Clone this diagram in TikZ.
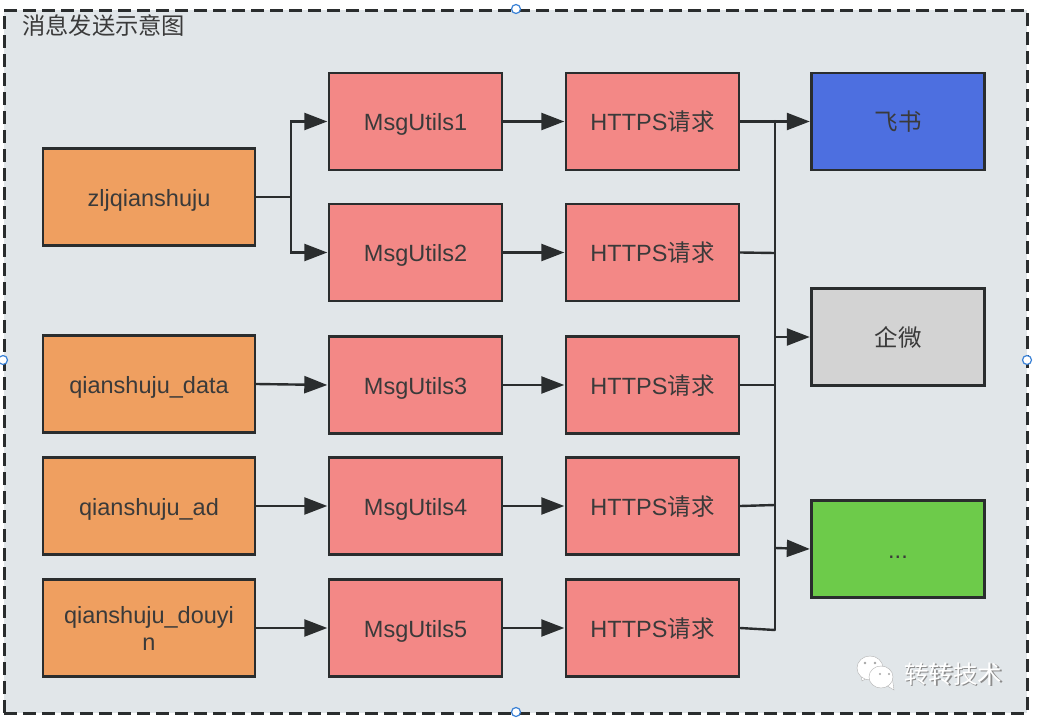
\documentclass[tikz,border=0pt]{standalone}
\usepackage{fontspec}
\setmainfont{Liberation Sans}
\newfontfamily\cjk{Noto Sans CJK SC}
\usetikzlibrary{arrows.meta}
\definecolor{panelfill}{HTML}{E1E6E9}
\definecolor{linedark}{HTML}{2A2D2E}
\definecolor{orangefill}{HTML}{EF9F60}
\definecolor{pinkfill}{HTML}{F38886}
\definecolor{bluefill}{HTML}{4D6FE0}
\definecolor{grayfill}{HTML}{D3D3D3}
\definecolor{greenfill}{HTML}{6DCB4A}
\definecolor{labeltext}{HTML}{3A3A3A}
\definecolor{handleblue}{HTML}{3B82D6}
\newcommand\lbl[1]{\raisebox{0pt}[18pt][0pt]{#1}}
\tikzset{
  x=1pt,y=-1pt,
  boxbase/.style={draw=linedark,line width=2.4pt,inner sep=0pt,text=labeltext,font=\fontsize{23.5}{27}\selectfont,align=center},
  srcbox/.style={boxbase,fill=orangefill,minimum width=212pt,minimum height=97pt},
  procbox/.style={boxbase,fill=pinkfill,minimum width=173pt,minimum height=97pt},
  dstbox/.style={boxbase,minimum width=173pt,minimum height=97pt},
  conn/.style={draw=linedark,line width=2.4pt},
  arr/.style={conn,-{Triangle[length=23pt,width=17pt]},shorten >=0.5pt},
  handle/.style={circle,draw=handleblue,fill=white,line width=1.2pt,minimum size=9pt,inner sep=0pt},
}
\begin{document}
\begin{tikzpicture}
\useasboundingbox (0,0) rectangle (1037,720);
\fill[white] (0,0) rectangle (1037,720);
\node[draw=linedark,fill=panelfill,line width=3pt,dash pattern=on 13pt off 6pt,minimum width=1023pt,minimum height=703pt,inner sep=0pt] (panel) at (515.5,361.5) {};
\node[handle] (h1) at (516,9) {};
\node[handle] (h2) at (3,360) {};
\node[handle] (h3) at (1027,360) {};
\node[handle] (h4) at (516,712) {};
\node[anchor=west,inner sep=0pt,text=labeltext,font=\cjk\fontsize{23.3}{26}\selectfont] (title) at (22,26) {消息发送示意图};

\node[srcbox] (s1) at (149,197) {\lbl{zljqianshuju}};
\node[srcbox] (s2) at (149,384) {\lbl{qianshuju\_data}};
\node[srcbox] (s3) at (149,506) {\lbl{qianshuju\_ad}};
\node[srcbox] (s4) at (149,628) {\lbl{qianshuju\_douyi}\\\lbl{n}};

\node[procbox] (m1) at (415.5,121.5) {\lbl{MsgUtils1}};
\node[procbox] (m2) at (415.5,252.5) {\lbl{MsgUtils2}};
\node[procbox] (m3) at (415.5,385) {\lbl{MsgUtils3}};
\node[procbox] (m4) at (415.5,506) {\lbl{MsgUtils4}};
\node[procbox] (m5) at (415.5,628) {\lbl{MsgUtils5}};

\node[procbox] (r1) at (652.5,121.5) {\lbl{HTTPS{\cjk 请求}}};
\node[procbox] (r2) at (652.5,252.5) {\lbl{HTTPS{\cjk 请求}}};
\node[procbox] (r3) at (652.5,385) {\lbl{HTTPS{\cjk 请求}}};
\node[procbox] (r4) at (652.5,506) {\lbl{HTTPS{\cjk 请求}}};
\node[procbox] (r5) at (652.5,628) {\lbl{HTTPS{\cjk 请求}}};

\node[dstbox,fill=bluefill] (d1) at (898,121.5) {\cjk\lbl{飞书}};
\node[dstbox,fill=grayfill] (d2) at (898,337) {\cjk\lbl{企微}};
\node[dstbox,fill=greenfill] (d3) at (898,549) {\lbl{...}};

\coordinate (j1) at (291,197);
\coordinate (b1) at (775,121);
\coordinate (b2) at (775,253);
\coordinate (b3) at (775,385);
\coordinate (b4) at (775,505);
\coordinate (b5) at (775,630);
\coordinate (bd2) at (775,337);
\coordinate (bd3) at (775,548);

\draw[conn] (s1.east) -- (j1);
\draw[arr] (j1) |- (m1.west);
\draw[arr] (j1) |- (m2.west);
\draw[arr] (s2.east) -- (m3.west);
\draw[arr] (s3.east) -- (m4.west);
\draw[arr] (s4.east) -- (m5.west);
\foreach \i in {1,...,5}{\draw[arr] (m\i.east) -- (r\i.west);}
\draw[arr] (r1.east) -- (d1.west);
\draw[conn,line cap=round] (b1) -- (b5);
\draw[conn] (r2.east) -- (b2);
\draw[conn] (r3.east) -- (b3);
\draw[conn] (r4.east) -- (b4);
\draw[conn] (r5.east) -- (b5);
\draw[arr] (bd2) -- (d2.west);
\draw[arr] (bd3) -- (d3.west);

% watermark
\fill[white,draw=gray!60,line width=0.4pt] (860,670) -- (862,681) -- (872,675) -- cycle;
\fill[white,draw=gray!60,line width=0.4pt] (870,668) ellipse [x radius=13pt,y radius=12pt];
\fill[white,draw=gray!60,line width=0.4pt] (884,684) -- (894,690) -- (892,676) -- cycle;
\fill[white,draw=gray!60,line width=0.4pt] (881,677) ellipse [x radius=12pt,y radius=11pt];
\fill[gray!70] (865,663) circle (1.3pt) (875,663) circle (1.3pt) (880,674) circle (1.2pt) (889,674) circle (1.2pt);
\node[inner sep=0pt,text=gray!90,font=\cjk\fontsize{24.5}{28}\selectfont] (wmshadow) at (954.5,675.5) {转转技术};
\node[inner sep=0pt,text=white,font=\cjk\fontsize{24.5}{28}\selectfont] (wm) at (953,674) {转转技术};
\end{tikzpicture}
\end{document}
